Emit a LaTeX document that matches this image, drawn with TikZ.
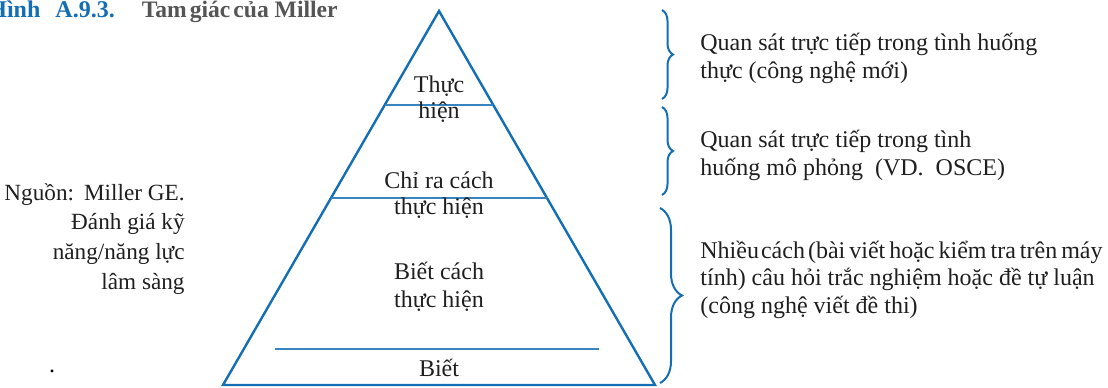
\documentclass[tikz,border=0pt]{standalone}
\usepackage{fontspec}
\setmainfont{Liberation Serif}
\usetikzlibrary{calc, decorations.pathreplacing, positioning}
\definecolor{mblue}{RGB}{20,110,180}
\definecolor{mgray}{RGB}{85,85,85}

\begin{document}
\begin{tikzpicture}[
  x=0.5pt, y=-0.5pt,
  level/.style={align=center, inner sep=0pt, anchor=base,
    font=\fontsize{12}{13}\selectfont, text=black!88},
  note/.style={align=left, inner sep=0pt, anchor=base west,
    font=\fontsize{12}{14}\selectfont, text=black!88},
  source/.style={align=right, inner sep=0pt, anchor=base east,
    font=\fontsize{11.6}{14.8}\selectfont, text=black!88},
  edge/.style={draw=mblue, line width=1.2pt, line join=miter},
  tier/.style={draw=mblue!85, line width=1pt},
  bracket/.style={draw=mblue, line width=1pt,
    decorate, decoration={brace, amplitude=#1}}
]
\useasboundingbox (0,0) rectangle (1108,387);

% title
\node[anchor=base west, inner sep=0pt, font=\bfseries]
  (title) at (-12,17) {\fontsize{12}{13}\selectfont\textcolor{mblue}{Hình\hspace{7.5pt}A.9.3.}\hspace{13.5pt}%
  \fontsize{11.8}{13}\selectfont\textcolor{mgray}{Tam\hspace{1.5pt}giác\hspace{1.5pt}của Miller}};

% pyramid
\coordinate (apex) at (439,11);
\coordinate (baseL) at (223,385);
\coordinate (baseR) at (655,385);
\draw[edge] (apex) -- (baseL) -- (baseR) -- cycle;
\draw[tier] ($(apex)!0.251!(baseL)$) -- ($(apex)!0.251!(baseR)$);
\draw[tier] ($(apex)!0.5!(baseL)$) -- ($(apex)!0.5!(baseR)$);
\coordinate (knowsL) at (275,349);
\coordinate (knowsR) at (599,349);
\draw[tier] (knowsL) -- (knowsR);

% anchor = baseline of the last line
\node[level] (does) at (439,118) {Thực\\hiện};
\node[level] (shows) at (439,214) {Chỉ ra cách\\thực hiện};
\node[level, font=\fontsize{12}{14}\selectfont] (knowshow) at (439,307) {Biết cách\\thực hiện};
\node[level] (knows) at (439,376) {Biết};

% braces
\coordinate (b1top) at (662,10);
\coordinate (b1bot) at (662,99);
\coordinate (b2top) at (662,107);
\coordinate (b2bot) at (662,195);
\coordinate (b3top) at (660,208);
\coordinate (b3bot) at (660,383);
\draw[bracket=5.5pt] (b1top) -- (b1bot);
\draw[bracket=5.5pt] (b2top) -- (b2bot);
\draw[bracket=11pt] (b3top) -- (b3bot);

% notes
\node[note] (noteDoes) at (700,78) {Quan sát trực tiếp trong tình huống\\thực (công nghệ mới)};
\node[note] (noteShows) at (700,175) {Quan sát trực tiếp trong tình\\huống mô phỏng\ \ (VD.\ \ OSCE)};
\node[note, font=\fontsize{12}{13.75}\selectfont] (noteKnows) at (700,313)
  {{\spaceskip=2pt Nhiều\hspace{1pt}cách\hspace{1.5pt}(bài viết hoặc kiểm tra trên máy}\\tính) câu hỏi trắc nghiệm hoặc đề tự luận\\(công nghệ viết đề thi)};

% source
\node[source] (source) at (185,289) {Nguồn:\hspace{5pt}Miller GE.\\Đánh giá kỹ\\năng/năng lực\\lâm sàng};
\node[anchor=base, inner sep=0pt, font=\fontsize{12}{14}\selectfont] (dot) at (52,372) {.};

\end{tikzpicture}
\end{document}
